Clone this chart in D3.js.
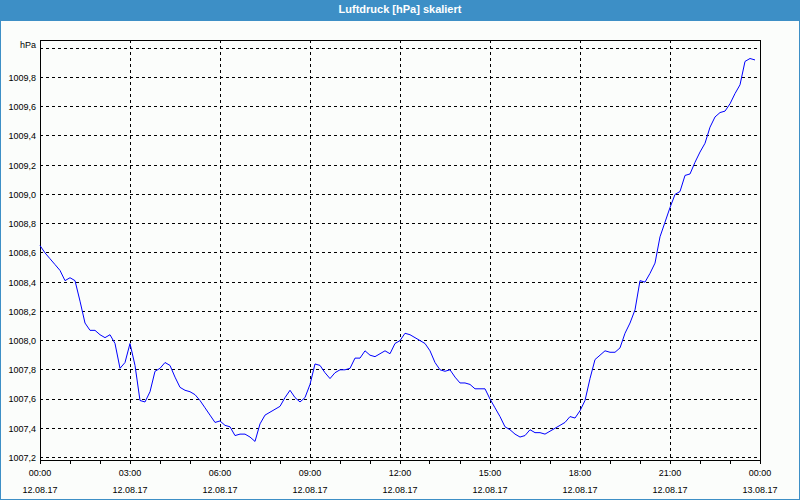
<!DOCTYPE html>
<html lang="de">
<head>
    <meta charset="UTF-8">
    <style>
        body {margin: 0; background: #fbfdfb;}
        text {font-family: "Liberation Sans", Arial, sans-serif;}
    </style>
</head>
<body>
<div id="chart"></div>

<script src="https://d3js.org/d3.v7.min.js"></script>
<script>

// values (one sample every 10 minutes from 12.08.17 00:00)
var title = "Luftdruck [hPa] skaliert";
var unit = "hPa";
var startTime = Date.UTC(2017, 7, 12, 0, 0);
var stepMinutes = 10;
var pressure = [
    1008.65, 1008.60, 1008.56, 1008.52, 1008.48, 1008.41, 1008.43, 1008.41, 1008.27, 1008.12,
    1008.07, 1008.07, 1008.04, 1008.02, 1008.04, 1007.98, 1007.81, 1007.85, 1007.98, 1007.83,
    1007.59, 1007.58, 1007.65, 1007.79, 1007.81, 1007.85, 1007.83, 1007.75, 1007.68, 1007.66,
    1007.65, 1007.63, 1007.59, 1007.54, 1007.49, 1007.44, 1007.45, 1007.42, 1007.41, 1007.35,
    1007.36, 1007.36, 1007.34, 1007.31, 1007.43, 1007.49, 1007.51, 1007.53, 1007.55, 1007.61,
    1007.66, 1007.61, 1007.58, 1007.61, 1007.70, 1007.84, 1007.83, 1007.78, 1007.74, 1007.78,
    1007.80, 1007.80, 1007.81, 1007.88, 1007.88, 1007.93, 1007.90, 1007.89, 1007.91, 1007.93,
    1007.91, 1007.98, 1008.00, 1008.05, 1008.04, 1008.02, 1008.00, 1007.98, 1007.93, 1007.85,
    1007.80, 1007.79, 1007.80, 1007.75, 1007.71, 1007.71, 1007.70, 1007.67, 1007.67, 1007.67,
    1007.60, 1007.54, 1007.48, 1007.41, 1007.39, 1007.36, 1007.34, 1007.35, 1007.39, 1007.37,
    1007.37, 1007.36, 1007.38, 1007.40, 1007.42, 1007.44, 1007.48, 1007.47, 1007.52, 1007.59,
    1007.74, 1007.87, 1007.90, 1007.93, 1007.92, 1007.92, 1007.95, 1008.05, 1008.12, 1008.21,
    1008.41, 1008.40, 1008.46, 1008.53, 1008.71, 1008.81, 1008.91, 1009.00, 1009.02, 1009.13,
    1009.14, 1009.22, 1009.29, 1009.35, 1009.46, 1009.53, 1009.56, 1009.57, 1009.62, 1009.69,
    1009.75, 1009.91, 1009.93, 1009.92
];

// axis ticks
var yTicks = [1007.2, 1007.4, 1007.6, 1007.8, 1008.0, 1008.2, 1008.4, 1008.6, 1008.8,
    1009.0, 1009.2, 1009.4, 1009.6, 1009.8, 1010.0];
var yLabelTicks = [1007.2, 1007.4, 1007.6, 1007.8, 1008.0, 1008.2, 1008.4, 1008.6, 1008.8,
    1009.0, 1009.2, 1009.4, 1009.6, 1009.8];
var xMajorHours = [0, 3, 6, 9, 12, 15, 18, 21, 24];
var xMinorHours = d3.range(0, 25);

var data = pressure.map(function (p, i) {
    return {time: new Date(startTime + i * stepMinutes * 60000), value: p};
});

var W = 800, H = 500;
var plot = {left: 40, top: 40, right: 760, bottom: 460};
var barColor = "#3d8fc6";

var svg = d3.select("#chart")
    .append("svg")
    .attr("width", W)
    .attr("height", H)
    .style("display", "block");

// window frame and title bar
svg.append("rect")
    .attr("x", 0.5).attr("y", 0.5)
    .attr("width", W - 1).attr("height", H - 1)
    .attr("fill", "#fbfdfb")
    .attr("stroke", barColor);

svg.append("rect")
    .attr("x", 0).attr("y", 0)
    .attr("width", W).attr("height", 21)
    .attr("fill", barColor);

svg.append("text")
    .attr("x", W / 2).attr("y", 13)
    .attr("text-anchor", "middle")
    .attr("fill", "#ffffff")
    .style("font-size", "11px")
    .style("font-weight", "bold")
    .text(title);

// scales
var x = d3.scaleUtc()
    .domain([new Date(startTime), new Date(startTime + 24 * 3600000)])
    .range([plot.left, plot.right]);

var y = d3.scaleLinear()
    .domain([1007.2, 1009.8])
    .range([457.5, 77.5]);

function hourDate(h) { return new Date(startTime + h * 3600000); }
function snap(v) { return Math.round(v - 0.5) + 0.5; }

// horizontal grid
svg.append("g")
    .selectAll("line")
    .data(yTicks)
    .enter().append("line")
    .attr("x1", plot.left).attr("x2", plot.right)
    .attr("y1", function (d) { return snap(y(d)); })
    .attr("y2", function (d) { return snap(y(d)); })
    .attr("stroke", "#000")
    .attr("stroke-dasharray", "3,3")
    .attr("shape-rendering", "crispEdges");

// vertical grid
svg.append("g")
    .selectAll("line")
    .data(xMajorHours.slice(1, -1))
    .enter().append("line")
    .attr("x1", function (d) { return snap(x(hourDate(d))); })
    .attr("x2", function (d) { return snap(x(hourDate(d))); })
    .attr("y1", plot.top).attr("y2", plot.bottom)
    .attr("stroke", "#000")
    .attr("stroke-dasharray", "3,3")
    .attr("shape-rendering", "crispEdges");

// plot frame
svg.append("rect")
    .attr("x", plot.left + 0.5).attr("y", plot.top + 0.5)
    .attr("width", plot.right - plot.left).attr("height", plot.bottom - plot.top)
    .attr("fill", "none")
    .attr("stroke", "#000")
    .attr("shape-rendering", "crispEdges");

// hourly ticks under the x axis
svg.append("g")
    .selectAll("line")
    .data(xMinorHours)
    .enter().append("line")
    .attr("x1", function (d) { return snap(x(hourDate(d))); })
    .attr("x2", function (d) { return snap(x(hourDate(d))); })
    .attr("y1", plot.bottom).attr("y2", plot.bottom + 4)
    .attr("stroke", "#000")
    .attr("shape-rendering", "crispEdges");

// y labels
var fmt = d3.formatLocale({decimal: ",", thousands: ".", grouping: [3], currency: ["", "€"]}).format(".1f");

var yAxis = svg.append("g")
    .attr("transform", "translate(" + plot.left + ",0)")
    .call(d3.axisLeft(y).tickValues(yLabelTicks).tickFormat(fmt).tickSize(0).tickPadding(4));
yAxis.select(".domain").remove();
yAxis.selectAll("text")
    .style("font-family", "'Liberation Sans', Arial, sans-serif")
    .style("font-size", "9px")
    .attr("fill", "#000");

svg.append("text")
    .attr("x", 36).attr("y", 48)
    .attr("text-anchor", "end")
    .style("font-size", "9px")
    .text(unit);

// x labels (time and date)
var timeFmt = d3.utcFormat("%H:%M");
var dateFmt = d3.utcFormat("%d.%m.%y");

var xLabels = svg.append("g")
    .selectAll("g")
    .data(xMajorHours)
    .enter().append("g")
    .attr("transform", function (d) { return "translate(" + x(hourDate(d)) + ",0)"; });

xLabels.append("text")
    .attr("y", 476)
    .attr("text-anchor", "middle")
    .style("font-size", "9px")
    .text(function (d) { return timeFmt(hourDate(d)); });

xLabels.append("text")
    .attr("y", 493)
    .attr("text-anchor", "middle")
    .style("font-size", "9px")
    .text(function (d) { return dateFmt(hourDate(d)); });

// pressure line
var line = d3.line()
    .x(function (d) { return x(d.time); })
    .y(function (d) { return y(d.value); });

svg.append("path")
    .datum(data)
    .attr("d", line)
    .attr("fill", "none")
    .attr("stroke", "#0000ff")
    .attr("stroke-width", 1);

</script>
</body>
</html>
